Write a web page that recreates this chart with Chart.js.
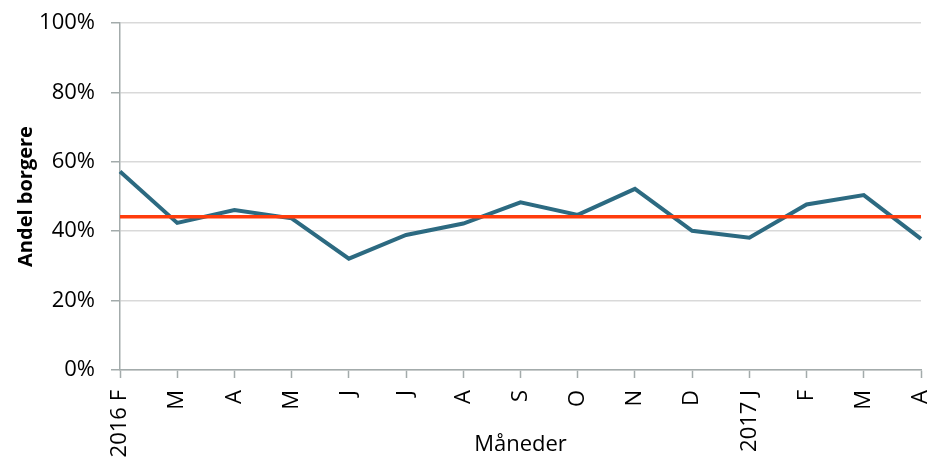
<!DOCTYPE html>
<html>
<head>
<meta charset="utf-8">
<script src="https://cdn.jsdelivr.net/npm/chart.js@4"></script>
<style>
  body { margin: 0; background: #fff; }
  #wrap { width: 930px; height: 458px; }
</style>
</head>
<body>
<div id="wrap"><canvas id="chart" width="930" height="458"></canvas></div>
<script>
// Months (Feb 2016 - Apr 2017)
const months = ['2016 F', 'M', 'A', 'M', 'J', 'J', 'A', 'S', 'O', 'N', 'D', '2017 J', 'F', 'M', 'A'];

// Share of citizens, percent
const shareValues = [57.2, 42.4, 46.1, 43.7, 32.1, 38.9, 42.2, 48.3, 44.7, 52.2, 40.1, 38.1, 47.7, 50.4, 37.8];

// Median line
const medianValue = 44.2;

const yTicks = [0, 20, 40, 60, 80, 100];

const axisGrey = '#A3ABAB';
const fontFamily = "'Open Sans', sans-serif";

const ctx = document.getElementById('chart').getContext('2d');
const chart = new Chart(ctx, {
  type: 'line',
  data: {
    labels: months,
    datasets: [{
      label: 'Median',
      data: months.map(() => medianValue),
      borderColor: '#FF3C0C',
      borderWidth: 3.5,
      pointRadius: 0,
      tension: 0
    }, {
      label: 'Andel borgere',
      data: shareValues,
      borderColor: '#2C6A81',
      borderWidth: 4,
      pointRadius: 0,
      tension: 0
    }]
  },
  options: {
    responsive: false,
    animation: false,
    layout: { padding: { top: 23, right: 9, left: 0, bottom: 0 } },
    plugins: {
      legend: { display: false },
      tooltip: { enabled: false }
    },
    scales: {
      x: {
        offset: false,
        grid: {
          display: true,
          drawOnChartArea: false,
          tickLength: 8,
          tickColor: axisGrey,
          tickWidth: 1.5
        },
        border: { color: axisGrey, width: 1.5 },
        ticks: {
          autoSkip: false,
          minRotation: 90,
          maxRotation: 90,
          padding: 12,
          color: '#000',
          font: { family: fontFamily, size: 22 }
        },
        title: {
          display: true,
          text: 'Måneder',
          color: '#000',
          padding: 0,
          font: { family: fontFamily, size: 22 }
        },
        afterFit: (scale) => {
          scale.height = 88;
          scale.paddingLeft = 0;
          scale.paddingRight = 0;
        }
      },
      y: {
        min: 0,
        max: 100,
        afterBuildTicks: (scale) => { scale.ticks = yTicks.map(v => ({ value: v })); },
        grid: {
          color: '#D9D9D9',
          lineWidth: 1.5,
          tickLength: 9,
          tickColor: axisGrey,
          tickWidth: 1.5
        },
        border: { color: axisGrey, width: 1.5 },
        ticks: {
          padding: 16,
          color: '#000',
          font: { family: fontFamily, size: 22 },
          callback: (v) => v + '%'
        },
        title: {
          display: true,
          text: 'Andel borgere',
          color: '#000',
          padding: { top: 14 },
          font: { family: fontFamily, size: 20, weight: 'bold' }
        },
        afterFit: (scale) => {
          scale.width = 120;
          scale.paddingTop = 0;
          scale.paddingBottom = 0;
        }
      }
    }
  }
});
</script>
</body>
</html>
